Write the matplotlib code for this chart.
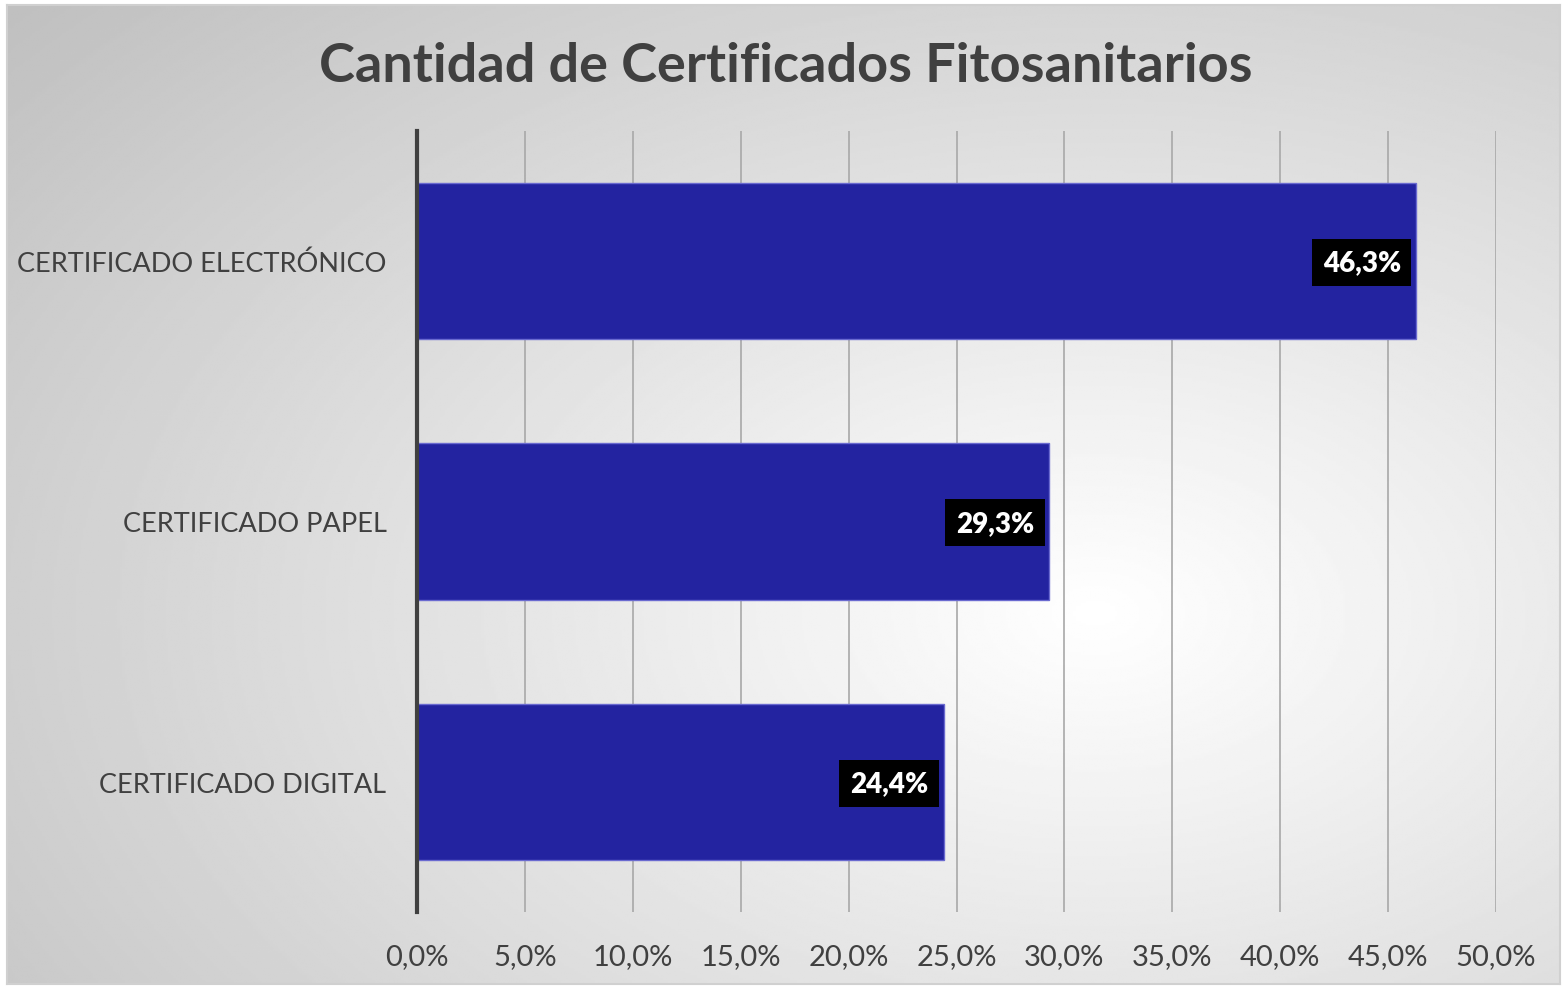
import numpy as np
import matplotlib.pyplot as plt
from matplotlib.ticker import FuncFormatter

# datos
categorias = ['CERTIFICADO DIGITAL', 'CERTIFICADO PAPEL', 'CERTIFICADO ELECTRÓNICO']
valores = [24.4, 29.3, 46.3]
ticks = [0, 5, 10, 15, 20, 25, 30, 35, 40, 45, 50]

plt.rcParams['font.family'] = ['Lato', 'DejaVu Sans']

fig = plt.figure(figsize=(15.63, 9.87), dpi=100)

# fondo con degradado radial
bg = fig.add_axes([7 / 1563, 2 / 987, 1553 / 1563, 979 / 987])
h, w = 400, 640
yy, xx = np.mgrid[0:h, 0:w]
cx, cy = 0.70 * w, 0.62 * h
d = np.sqrt(((xx - cx) / w) ** 2 + ((yy - cy) / h) ** 2)
d = d / d.max()
grad = 1.0 - 0.25 * d
bg.imshow(grad, cmap='gray', vmin=0, vmax=1, aspect='auto', extent=[0, 1, 0, 1])
bg.set_xticks([])
bg.set_yticks([])
for s in bg.spines.values():
    s.set_color('#d0d0d0')
    s.set_linewidth(1.5)
bg.set_zorder(0)

ax = fig.add_axes([417 / 1563, 74 / 987, 1079 / 1563, 781 / 987])
ax.set_zorder(1)
ax.patch.set_alpha(0)

y = np.arange(len(categorias))
ax.barh(y, valores, height=0.6, color='#2323A0', edgecolor='#6a6ad0', linewidth=1, zorder=2)

for yi, v in zip(y, valores):
    ax.annotate(f'{v:.1f}%'.replace('.', ','), (v, yi), xytext=(-11, -1), textcoords='offset points',
                ha='right', va='center', color='white', fontsize=20, fontweight='heavy',
                bbox=dict(boxstyle='square,pad=0.38', fc='black', ec='none'), zorder=4)

ax.set_xlim(0, 50)
ax.set_ylim(-0.5, 2.5)
ax.set_xticks(ticks)
ax.xaxis.set_major_formatter(FuncFormatter(lambda x, p: f'{x:.1f}%'.replace('.', ',')))
ax.grid(axis='x', color='#a8a8a8', linewidth=1.2, zorder=1)
ax.set_axisbelow(True)
ax.set_yticks(y)
ax.set_yticklabels(categorias)
ax.tick_params(axis='x', length=0, pad=22, labelsize=21, labelcolor='#404040')
ax.tick_params(axis='y', length=0, pad=22, labelsize=19.5, labelcolor='#404040')
for s in ['top', 'right', 'bottom']:
    ax.spines[s].set_visible(False)
ax.spines['left'].set_color('#404040')
ax.spines['left'].set_linewidth(3)
ax.spines['left'].set_zorder(3)

fig.text(0.503, 0.933, 'Cantidad de Certificados Fitosanitarios', ha='center', va='center',
         fontsize=39, fontweight='bold', color='#404040')

fig.savefig('out.png', dpi=100)
